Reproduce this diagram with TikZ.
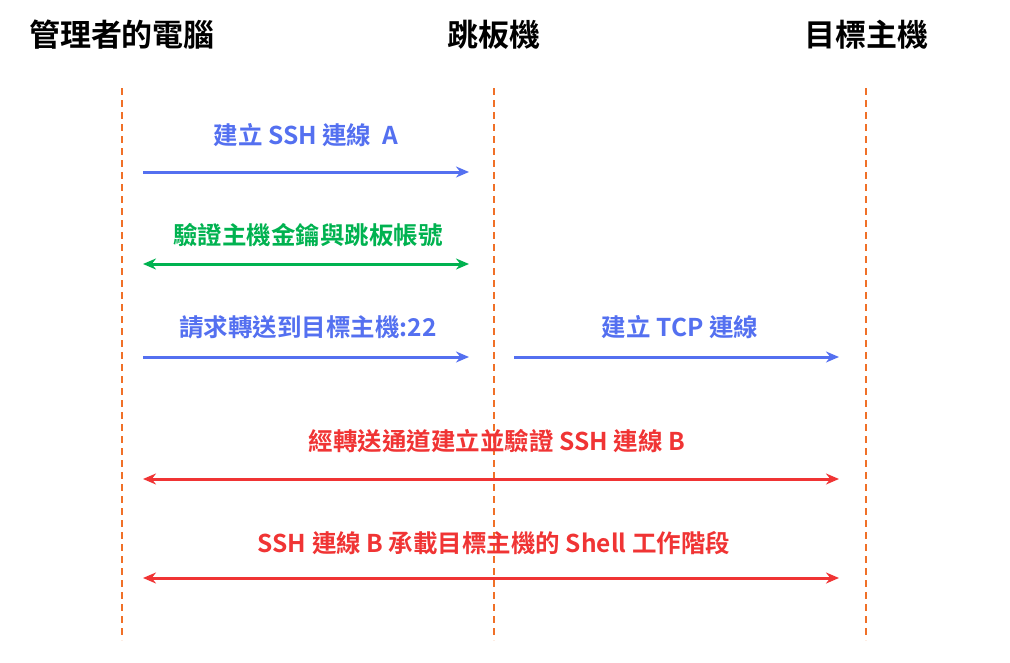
\documentclass[tikz,border=0pt]{standalone}
\usepackage{fontspec}
\setmainfont{Noto Sans CJK TC}[BoldFont={Noto Sans CJK TC Bold}]
\usetikzlibrary{arrows.meta}
\definecolor{msgblue}{RGB}{84,112,240}
\definecolor{msggreen}{RGB}{0,178,80}
\definecolor{msgred}{RGB}{240,52,52}
\definecolor{lifeorange}{RGB}{240,112,40}
\tikzset{
  head/.style={font=\bfseries\fontsize{31}{34}\selectfont},
  lbl/.style={font=\bfseries\fontsize{24.5}{28}\selectfont},
  life/.style={lifeorange,line width=2pt,dash pattern=on 7pt off 5pt},
  msg/.style={line width=3pt,-{Stealth[length=13pt,width=11pt]}},
  both/.style={line width=3pt,{Stealth[length=13pt,width=11pt]}-{Stealth[length=13pt,width=11pt]}}
}
\begin{document}
\begin{tikzpicture}[x=1pt,y=-1pt]
\useasboundingbox (0,0) rectangle (1010,662);

% heads
\node[head] (pc) at (122,35) {管理者的電腦};
\node[head] (jump) at (494,35) {跳板機};
\node[head] (target) at (866,35) {目標主機};

% lifelines
\coordinate (pcTop) at (122,88);   \coordinate (pcBot) at (122,640);
\coordinate (jTop) at (494,88);    \coordinate (jBot) at (494,640);
\coordinate (tTop) at (866,88);    \coordinate (tBot) at (866,640);
\draw[life] (pcTop) -- (pcBot);
\draw[life] (jTop) -- (jBot);
\draw[life] (tTop) -- (tBot);

% messages
\coordinate (a1) at (143,172); \coordinate (b1) at (469,172);
\draw[msg,msgblue] (a1) -- (b1);
\node[lbl,msgblue] (l1) at (306,135) {建立 SSH 連線\ \ A};

\coordinate (a2) at (143,264); \coordinate (b2) at (469,264);
\draw[both,msggreen] (a2) -- (b2);
\node[lbl,msggreen] (l2) at (308,235) {驗證主機金鑰與跳板帳號};

\coordinate (a3) at (143,357); \coordinate (b3) at (469,357);
\draw[msg,msgblue] (a3) -- (b3);
\node[lbl,msgblue] (l3) at (308,327) {請求轉送到目標主機:22};

\coordinate (a4) at (514,357); \coordinate (b4) at (839,357);
\draw[msg,msgblue] (a4) -- (b4);
\node[lbl,msgblue] (l4) at (680,327) {建立 TCP 連線};

\coordinate (a5) at (143,479); \coordinate (b5) at (839,479);
\draw[both,msgred] (a5) -- (b5);
\node[lbl,msgred] (l5) at (497,441) {經轉送通道建立並驗證 SSH 連線 B};

\coordinate (a6) at (143,578); \coordinate (b6) at (839,578);
\draw[both,msgred] (a6) -- (b6);
\node[lbl,msgred] (l6) at (494,543) {SSH 連線 B 承載目標主機的 Shell 工作階段};
\end{tikzpicture}
\end{document}
